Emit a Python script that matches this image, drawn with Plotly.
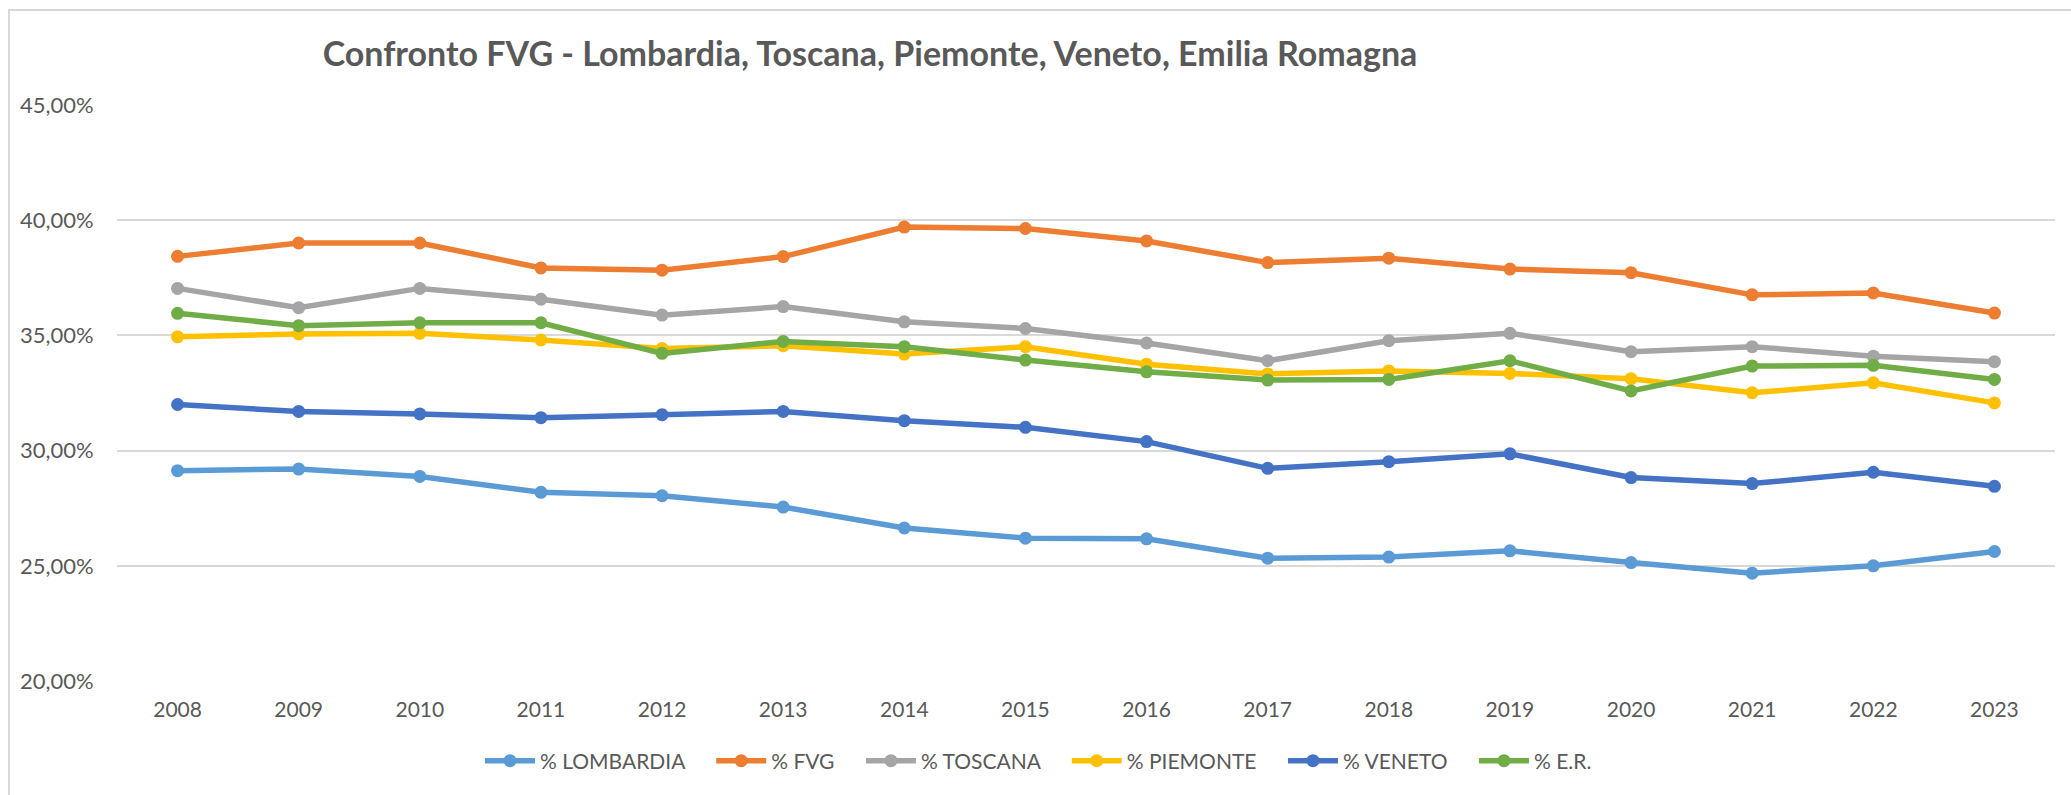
import plotly.graph_objects as go

years = [str(y) for y in range(2008, 2024)]

lombardia = [29.13, 29.20, 28.88, 28.19, 28.04, 27.55, 26.64, 26.20, 26.17, 25.33, 25.38, 25.65, 25.14, 24.68, 25.00, 25.62]
fvg = [38.43, 39.01, 39.01, 37.93, 37.83, 38.42, 39.70, 39.64, 39.10, 38.16, 38.35, 37.88, 37.72, 36.76, 36.84, 35.97]
toscana = [37.04, 36.20, 37.04, 36.57, 35.88, 36.25, 35.59, 35.30, 34.67, 33.90, 34.77, 35.09, 34.29, 34.51, 34.10, 33.86]
piemonte = [34.94, 35.06, 35.09, 34.80, 34.43, 34.55, 34.19, 34.51, 33.75, 33.33, 33.46, 33.35, 33.12, 32.51, 32.94, 32.07]
veneto = [32.00, 31.70, 31.59, 31.43, 31.56, 31.70, 31.30, 31.01, 30.39, 29.23, 29.52, 29.86, 28.83, 28.57, 29.06, 28.45]
er = [35.96, 35.42, 35.55, 35.55, 34.22, 34.74, 34.51, 33.93, 33.42, 33.06, 33.09, 33.90, 32.59, 33.67, 33.70, 33.09]

series_names = ["% LOMBARDIA", "% FVG", "% TOSCANA", "% PIEMONTE", "% VENETO", "% E.R."]
series_values = [lombardia, fvg, toscana, piemonte, veneto, er]
colors = ["#5B9BD5", "#ED7D31", "#A5A5A5", "#FFC000", "#4472C4", "#70AD47"]

y_ticks = [20, 25, 30, 35, 40, 45]
y_ticktext = [f"{v:.2f}%".replace(".", ",") for v in y_ticks]

FONT = "Lato"
TXT = "#595959"

fig = go.Figure()
for name, vals, col in zip(series_names, series_values, colors):
    fig.add_trace(go.Scatter(
        x=years, y=vals, name=name + "\u00a0" * 4, mode="lines+markers",
        line=dict(color=col, width=5.5),
        marker=dict(color=col, size=13, symbol="circle"),
    ))

fig.update_layout(
    width=2071, height=795, autosize=False,
    margin=dict(l=117, r=16, t=105, b=114, pad=0),
    paper_bgcolor="white", plot_bgcolor="white",
    font=dict(family=FONT, size=21, color=TXT),
    title=dict(
        text="Confronto FVG - Lombardia, Toscana, Piemonte, Veneto, Emilia Romagna",
        x=870 / 2071, xanchor="center", xref="container",
        y=1 - 54 / 795, yanchor="middle", yref="container",
        font=dict(family=FONT, size=34, color=TXT, weight=700),
    ),
    xaxis=dict(
        type="category", range=[-0.5, 15.5],
        showgrid=False, zeroline=False, showline=False,
        ticks="outside", ticklen=10, tickcolor="rgba(0,0,0,0)",
        tickfont=dict(family=FONT, size=21, color=TXT),
    ),
    yaxis=dict(
        range=[20, 45], tickvals=y_ticks, ticktext=y_ticktext,
        showgrid=True, gridcolor="#D9D9D9", gridwidth=1.5,
        zeroline=False, showline=False,
        ticks="outside", ticklen=18, tickcolor="rgba(0,0,0,0)",
        tickfont=dict(family=FONT, size=22, color=TXT),
    ),
    legend=dict(
        orientation="h", x=(1049 - 117) / 1938, xanchor="center",
        y=-80 / 576, yanchor="middle",
        font=dict(family=FONT, size=21, color=TXT),
        bgcolor="rgba(0,0,0,0)", itemclick=False, itemwidth=50,
    ),
    shapes=[dict(
        type="rect", xref="paper", yref="paper",
        x0=(9 - 117) / 1938, x1=(2090 - 117) / 1938,
        y0=(681 - 810) / 576, y1=(681 - 10) / 576,
        line=dict(color="#D9D9D9", width=2), fillcolor="rgba(0,0,0,0)", layer="below",
    )],
)

fig.write_html(
    "out.html",
    config={"displayModeBar": False},
    post_script="document.body.style.margin='0';document.body.style.overflow='hidden';",
)
